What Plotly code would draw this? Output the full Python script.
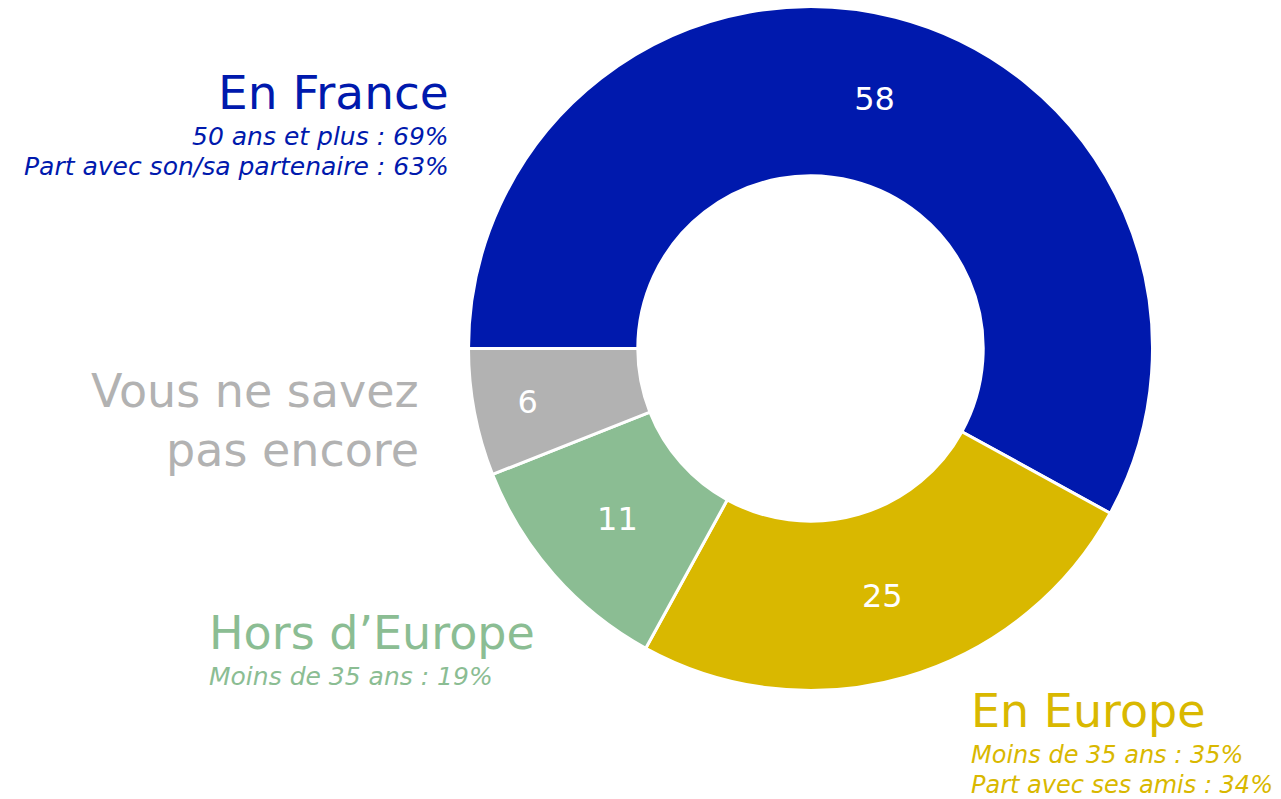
import plotly.graph_objects as go

W, H = 1281, 799

categories = ["En France", "En Europe", "Hors d'Europe", "Vous ne savez pas encore"]
values = [58, 25, 11, 6]
colors = ["#0019AD", "#D9B800", "#8BBD93", "#B2B2B2"]

# Annotation texts
title_lines = {
    "En France": ["En France"],
    "En Europe": ["En Europe"],
    "Hors d'Europe": ["Hors d\u2019Europe"],
    "Vous ne savez pas encore": ["Vous ne savez", "pas encore"],
}
sub_lines = {
    "En France": ["50 ans et plus : 69%", "Part avec son/sa partenaire : 63%"],
    "En Europe": ["Moins de 35 ans : 35%", "Part avec ses amis : 34%"],
    "Hors d'Europe": ["Moins de 35 ans : 19%"],
    "Vous ne savez pas encore": [],
}

FONT = "DejaVu Sans"

cx, cy, R = 810.5, 348.5, 342
fig = go.Figure(go.Pie(
    labels=categories,
    values=values,
    hole=0.505,
    sort=False,
    direction="clockwise",
    rotation=-90,
    marker=dict(colors=colors, line=dict(color="white", width=3)),
    textinfo="value",
    textposition="inside",
    insidetextorientation="horizontal",
    insidetextfont=dict(family=FONT, size=32, color="white"),
    showlegend=False,
    hoverinfo="skip",
    domain=dict(x=[(cx - R) / W, (cx + R) / W], y=[1 - (cy + R) / H, 1 - (cy - R) / H]),
))

def ann(text, px, py, anchor, size, color, italic=False):
    fig.add_annotation(
        x=px / W, y=1 - py / H, xref="paper", yref="paper",
        xanchor=anchor, yanchor="middle", showarrow=False,
        text=f"<i>{text}</i>" if italic else text,
        font=dict(family=FONT, size=size, color=color),
    )

TS, SS = 46, 25
# En France
ann(title_lines["En France"][0], 451, 93, "right", 47, colors[0])
ann(sub_lines["En France"][0], 451, 136, "right", SS, colors[0], True)
ann(sub_lines["En France"][1], 451, 166, "right", SS, colors[0], True)
# Vous ne savez pas encore
ann(title_lines["Vous ne savez pas encore"][0], 421, 391, "right", TS, colors[3])
ann(title_lines["Vous ne savez pas encore"][1], 421, 450, "right", TS, colors[3])
# Hors d'Europe
ann(title_lines["Hors d'Europe"][0], 207, 633, "left", TS, colors[2])
ann(sub_lines["Hors d'Europe"][0], 207, 676, "left", SS, colors[2], True)
# En Europe
ann(title_lines["En Europe"][0], 969, 711, "left", TS, colors[1])
ann(sub_lines["En Europe"][0], 969, 755, "left", 24, colors[1], True)
ann(sub_lines["En Europe"][1], 969, 785, "left", 24, colors[1], True)

fig.update_layout(
    width=W, height=H,
    margin=dict(l=0, r=0, t=0, b=0),
    paper_bgcolor="white", plot_bgcolor="white",
)

fig.write_html(
    "out.html",
    config={"displayModeBar": False},
    post_script="document.body.style.margin='0';document.body.style.overflow='hidden';",
)
